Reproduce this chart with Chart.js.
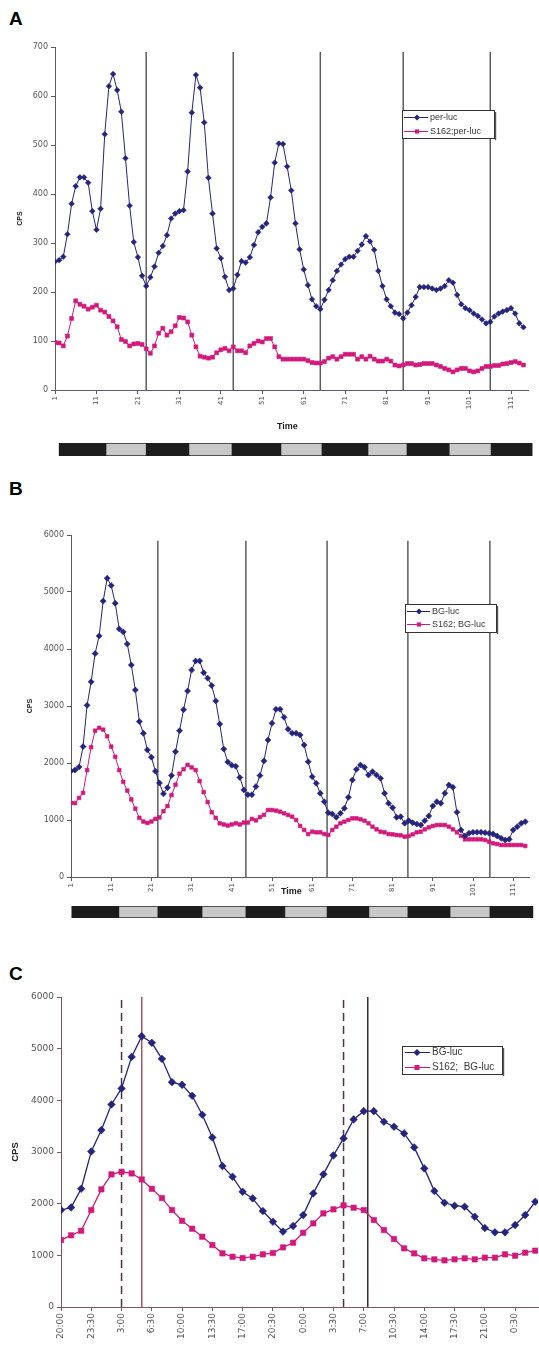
<!DOCTYPE html>
<html><head><meta charset="utf-8">
<script src="https://cdn.jsdelivr.net/npm/chart.js"></script>
<style>
html,body{margin:0;padding:0;background:#fff;}
body{width:539px;height:1345px;position:relative;overflow:hidden;font-family:"Liberation Sans",Arial,sans-serif;}
canvas{position:absolute;left:0;}
.lbl{position:absolute;left:9px;font:bold 19px "Liberation Sans",Arial,sans-serif;line-height:19px;color:#000;}
.axt{position:absolute;font:bold 9px "Liberation Sans",Arial,sans-serif;line-height:11px;color:#222;}
</style></head><body>
<div class="lbl" style="top:9px">A</div>
<div class="lbl" style="top:479px">B</div>
<div class="lbl" style="top:964px">C</div>
<canvas id="cA" width="539" height="440" style="top:0px"></canvas>
<canvas id="ldA" width="539" height="13" style="top:443px"></canvas>
<canvas id="cB" width="539" height="420" style="top:480px"></canvas>
<canvas id="ldB" width="539" height="12" style="top:906px"></canvas>
<canvas id="cC" width="539" height="395" style="top:950px"></canvas>
<div class="axt" style="left:277px;top:421px">Time</div>
<div class="axt" style="left:281px;top:886px">Time</div>
<script>
// ---------------- DATA ----------------
// Panel A (time index 1..114)
const aSeriesNames = ['per-luc', 'S162;per-luc'];
const aBlue = [262,265,272,318,380,416,434,434,423,365,327,370,522,620,645,612,568,473,376,302,
  271,233,212,230,252,280,294,316,350,360,365,367,446,566,643,617,546,433,360,289,
  269,231,204,207,235,263,260,271,296,322,333,340,393,464,503,502,456,407,340,287,
  246,214,185,171,165,184,204,224,243,256,267,272,272,284,297,314,303,286,243,212,
  185,171,158,155,146,158,173,190,210,210,210,207,204,207,212,224,219,194,175,167,
  163,156,151,144,136,139,150,156,160,163,167,156,136,128];
const aPink = [97,96,90,110,146,182,175,171,165,169,173,163,159,150,141,129,103,99,90,94,
  95,93,84,75,90,116,126,112,119,131,148,147,139,112,88,69,67,65,67,76,
  82,85,80,88,80,80,76,90,95,100,98,105,105,88,68,63,63,63,63,63,
  63,60,56,55,55,58,65,68,63,68,73,73,73,63,68,63,69,63,59,59,
  63,59,51,49,51,54,54,51,52,54,54,54,51,48,44,41,37,41,44,44,
  39,37,39,44,48,48,50,50,53,54,56,58,55,51];
const aTickLabels = [1,11,21,31,41,51,61,71,81,91,101,111];
const aYTicks = [0,100,200,300,400,500,600,700];
const aDayLines = [23,44,65,85,106];
const aLightDark = [2,13.3,23,33.3,43.7,55.5,65.4,76.5,85.9,96.1,106.2,116.1]; // dark, light, dark ...

// Panel B (time index 1..114)
const bSeriesNames = ['BG-luc', 'S162; BG-luc'];
const bBlue = [1860,1876,1928,2288,3011,3424,3920,4230,4841,5242,5113,4803,4352,4300,4088,3720,3282,2727,2520,2230,
  2102,1857,1650,1459,1567,1779,2199,2567,2934,3263,3631,3791,3791,3585,3489,3360,3089,2683,2244,2017,
  1960,1941,1747,1528,1445,1445,1586,1779,2037,2404,2696,2942,2942,2801,2591,2521,2521,2491,2316,2023,
  1760,1643,1468,1322,1129,1105,1047,1117,1205,1398,1702,1889,1965,1924,1789,1848,1789,1731,1468,1292,
  1216,1047,1058,942,988,953,930,912,988,1070,1246,1322,1292,1468,1614,1573,1135,825,719,766,
  784,784,784,778,766,754,719,678,649,661,825,883,942,971];
const bPink = [1300,1296,1387,1476,1876,2277,2567,2617,2585,2469,2288,2108,1876,1669,1515,1360,1199,1038,973,948,
  973,1019,1045,1154,1244,1437,1619,1812,1890,1967,1922,1876,1683,1489,1315,1135,1038,942,922,903,
  922,942,922,955,955,1019,993,1051,1090,1175,1175,1164,1146,1117,1088,1058,1000,895,825,754,
  795,784,784,754,737,825,883,942,971,1000,1029,1029,1012,988,942,883,836,795,784,754,
  748,737,731,708,719,748,784,795,836,871,895,912,912,912,883,836,784,719,661,661,
  661,661,661,649,620,591,579,561,561,561,561,561,561,544];
const bTickLabels = [1,11,21,31,41,51,61,71,81,91,101,111];
const bYTicks = [0,1000,2000,3000,4000,5000,6000];
const bDayLines = [22.6,44.5,64.7,84.8,105.2];
const bLightDark = [1.2,12.9,22.6,33.6,44.5,54.2,64.7,75.1,84.8,95.3,105.2,115.9];

// Panel C (samples 2..49 of panel B, 70 min apart)
const cSeriesNames = ['BG-luc', 'S162;  BG-luc'];
const cBlue = bBlue.slice(1, 49);
const cPink = bPink.slice(1, 49);
const cTickLabels = ['20:00','23:30','3:00','6:30','10:00','13:30','17:00','20:30',
  '0:00','3:30','7:00','10:30','14:00','17:30','21:00','0:30'];
const cTickPos = [0,3,6,9,12,15,18,21,24,27,30,33,36,39,42,45];
const cYTicks = [0,1000,2000,3000,4000,5000,6000];
const cSolidLines = [8,30.4];
const cDashedLines = [6,28];

// ---------------- STYLE ----------------
const BLUE = '#24247e';
const PINK = '#d2197b';
const TICKFONT = '"DejaVu Sans", sans-serif';
const SANS = '"Liberation Sans", Arial, sans-serif';

function diamond(ctx, x, y, r){ctx.beginPath();ctx.moveTo(x-r,y);ctx.lineTo(x,y-r);ctx.lineTo(x+r,y);ctx.lineTo(x,y+r);ctx.closePath();ctx.fill();}
function square(ctx, x, y, s){ctx.fillRect(x-s/2,y-s/2,s,s);}

const boxLegend = {
  id: 'boxLegend',
  afterDraw(chart, args, o) {
    const ctx = chart.ctx;
    ctx.save();
    ctx.fillStyle = '#fff';
    ctx.fillRect(o.x, o.y, o.w, o.h);
    ctx.strokeStyle = '#333';
    ctx.lineWidth = 1;
    ctx.strokeRect(o.x + 0.5, o.y + 0.5, o.w, o.h);
    ctx.fillStyle = '#555';
    ctx.fillRect(o.x + o.w + 1, o.y + 2, 1.2, o.h);
    const series = chart.data.datasets.filter(d => !d.isRef);
    series.forEach((d, k) => {
      const cy = o.y + o.rows[k];
      ctx.strokeStyle = d.borderColor;
      ctx.lineWidth = 1;
      ctx.beginPath(); ctx.moveTo(o.x + o.l0, cy + 0.5); ctx.lineTo(o.x + o.l1, cy + 0.5); ctx.stroke();
      ctx.fillStyle = d.borderColor;
      if (k === 0) diamond(ctx, o.x + o.m, cy + 0.5, o.mr); else square(ctx, o.x + o.m, cy + 0.5, o.ms);
      ctx.fillStyle = '#3a3a3a';
      ctx.font = o.font;
      ctx.textBaseline = 'middle';
      ctx.textAlign = 'left';
      ctx.fillText(d.label, o.x + o.tx, cy + 0.5);
    });
    ctx.restore();
  }
};

function mainChart(id, c) {
  const datasets = [
    {label: c.names[0], data: c.blue.map((v, i) => ({x: i + c.x0, y: v})), borderColor: BLUE, backgroundColor: BLUE,
     borderWidth: c.lw, pointStyle: 'rectRot', pointRadius: c.rB, pointBorderWidth: 0.6, pointBorderColor: BLUE, order: 0},
    {label: c.names[1], data: c.pink.map((v, i) => ({x: i + c.x0, y: v})), borderColor: PINK, backgroundColor: PINK,
     borderWidth: c.lw, pointStyle: 'rect', pointRadius: c.rP, pointBorderWidth: 0.6, pointBorderColor: PINK, order: 0}
  ];
  c.refs.forEach(r => {
    r.xs.forEach(v => datasets.push({isRef: true, label: '', data: [{x: v, y: 0}, {x: v, y: r.top}],
      borderColor: r.color, borderWidth: r.w, borderDash: r.dash || [], pointRadius: 0, order: 1, clip: false}));
  });
  return new Chart(document.getElementById(id), {
    type: 'line',
    data: {datasets},
    plugins: [boxLegend],
    options: {
      responsive: false, animation: false, devicePixelRatio: 1, events: [],
      layout: {autoPadding: false, padding: {left: 0, right: c.padR, top: c.padT, bottom: 0}},
      plugins: {legend: {display: false}, tooltip: {enabled: false}, boxLegend: c.legend},
      scales: {
        x: {
          type: 'linear', min: c.xmin, max: c.xmax,
          afterBuildTicks: s => { s.ticks = c.xTickPos.map(v => ({value: v})); },
          afterFit: s => { s.height = c.xH; },
          ticks: {autoSkip: false, minRotation: 90, maxRotation: 90, padding: 2, color: '#555',
            font: {family: TICKFONT, size: c.xFont}, callback: (v, i) => c.xLabels[i]},
          grid: {display: true, drawOnChartArea: false, drawTicks: true, tickLength: 4, color: c.axis},
          border: {display: true, color: c.axis, width: 1}
        },
        y: {
          type: 'linear', min: 0, max: c.yTicks[c.yTicks.length - 1],
          afterBuildTicks: s => { s.ticks = c.yTicks.map(v => ({value: v})); },
          afterFit: s => { s.width = c.yW; },
          ticks: {padding: 3, color: '#555', font: {family: TICKFONT, size: c.yFont}, callback: v => String(v)},
          grid: {display: true, drawOnChartArea: false, drawTicks: true, tickLength: 4, color: c.axis},
          border: {display: true, color: c.axis, width: 1},
          title: {display: true, text: 'CPS', color: '#222',
            font: {family: SANS, size: c.yTitleSize, weight: 'bold'}, padding: {top: c.yTitlePad, bottom: 0}}
        }
      }
    }
  });
}

function ldChart(id, edges, padL, padR, xmin, xmax) {
  const dark = [], light = [];
  for (let k = 0; k < edges.length - 1; k++) (k % 2 === 0 ? dark : light).push({x: [edges[k], edges[k + 1]], y: 'LD'});
  return new Chart(document.getElementById(id), {
    type: 'bar',
    data: {labels: ['LD'], datasets: [
      {data: dark, backgroundColor: '#1d1d1d', borderWidth: 0, grouped: false, clip: false, barPercentage: 1, categoryPercentage: 1},
      {data: light, backgroundColor: '#c8c8c8', borderColor: '#2a2a2a', borderWidth: {top: 1, bottom: 1, left: 0, right: 0},
       borderSkipped: false, grouped: false, clip: false, barPercentage: 1, categoryPercentage: 1}
    ]},
    options: {
      indexAxis: 'y', responsive: false, animation: false, devicePixelRatio: 1, events: [],
      layout: {autoPadding: false, padding: {left: padL, right: padR, top: 0, bottom: 0}},
      plugins: {legend: {display: false}, tooltip: {enabled: false}},
      scales: {x: {type: 'linear', display: false, min: xmin, max: xmax}, y: {type: 'category', display: false}}
    }
  });
}

// Panel A
mainChart('cA', {
  names: aSeriesNames, blue: aBlue, pink: aPink, x0: 1, xmin: 1, xmax: 115.1,
  xTickPos: aTickLabels, xLabels: aTickLabels.map(String), yTicks: aYTicks,
  padR: 11, padT: 47, xH: 50, yW: 55, xFont: 7, yFont: 8, lw: 1, rB: 2.8, rP: 2.8,
  axis: '#5a5a6e', yTitleSize: 7, yTitlePad: 15.8,
  refs: [{xs: aDayLines, top: 690, color: '#5c5c5c', w: 1.5}],
  legend: {x: 402, y: 110, w: 92, h: 28, rows: [7, 21], l0: 2, l1: 26, m: 15, mr: 3, ms: 4.2, tx: 28, font: '9px ' + SANS}
});
ldChart('ldA', aLightDark, 55, 11, 1, 115.1);

// Panel B
mainChart('cB', {
  names: bSeriesNames, blue: bBlue, pink: bPink, x0: 1, xmin: 1, xmax: 114.93,
  xTickPos: bTickLabels, xLabels: bTickLabels.map(String), yTicks: bYTicks,
  padR: 10, padT: 55, xH: 23, yW: 71, xFont: 7, yFont: 8, lw: 1, rB: 3, rP: 2.6,
  axis: '#5a5a5a', yTitleSize: 7, yTitlePad: 25.8,
  refs: [{xs: bDayLines, top: 5900, color: '#5c5c5c', w: 1.5}],
  legend: {x: 405, y: 124, w: 91, h: 28, rows: [7, 20], l0: 2, l1: 25, m: 14, mr: 3, ms: 4.2, tx: 27, font: '9px ' + SANS}
});
ldChart('ldB', bLightDark, 71, 10, 1, 114.93);

// Panel C
mainChart('cC', {
  names: cSeriesNames, blue: cBlue, pink: cPink, x0: 0, xmin: 0, xmax: 47.27,
  xTickPos: cTickPos, xLabels: cTickLabels, yTicks: cYTicks,
  padR: 1, padT: 47, xH: 38, yW: 61, xFont: 9, yFont: 9, lw: 1.3, rB: 3.8, rP: 3.8,
  axis: '#7a5566', yTitleSize: 9.5, yTitlePad: 9.3,
  refs: [
    {xs: [cSolidLines[0]], top: 6000, color: '#a4545c', w: 1.5},
    {xs: [cSolidLines[1]], top: 6000, color: '#3d2a2a', w: 1.5},
    {xs: cDashedLines, top: 6000, color: '#4a3440', w: 1.5, dash: [8, 5]}
  ],
  legend: {x: 402, y: 96, w: 100, h: 28, rows: [6, 21], l0: 3, l1: 28, m: 15, mr: 3.5, ms: 5, tx: 30, font: '10px ' + SANS}
});
</script>
</body></html>
